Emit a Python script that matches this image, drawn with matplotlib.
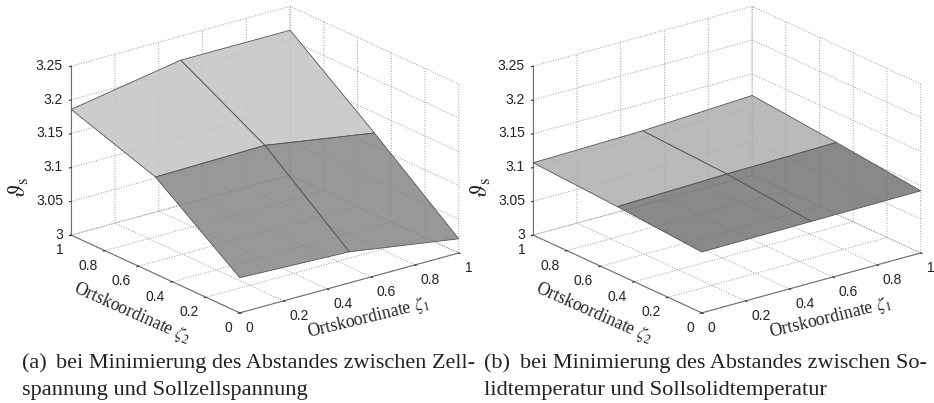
import numpy as np
import matplotlib
matplotlib.use('Agg')
import matplotlib.pyplot as plt

zeta1 = [0, 0.5, 1]
zeta2 = [0, 0.5, 1]
# rows: zeta2 = 0, 0.5, 1
theta_a = [[3.052, 3.046, 3.021],
           [3.1435, 3.146, 3.12],
           [3.186, 3.2145, 3.2145]]
theta_b = [[3.09, 3.091, 3.092],
           [3.0996, 3.1036, 3.106],
           [3.107, 3.11, 3.118]]
xticks = [0, 0.2, 0.4, 0.6, 0.8, 1]
xticklabels = ['0', '0.2', '0.4', '0.6', '0.8', '1']
zticks = [3, 3.05, 3.1, 3.15, 3.2, 3.25]
zticklabels = ['3', '3.05', '3.1', '3.15', '3.2', '3.25']
caption_a = ['(a)', 'bei Minimierung des Abstandes zwischen Zell-', 'spannung und Sollzellspannung']
caption_b = ['(b)', 'bei Minimierung des Abstandes zwischen So-', 'lidtemperatur und Sollsolidtemperatur']

plt.rcParams['font.family'] = ['Liberation Sans', 'DejaVu Sans']
plt.rcParams['mathtext.fontset'] = 'stix'
plt.rcParams['grid.linestyle'] = ':'
plt.rcParams['grid.linewidth'] = 0.7
plt.rcParams['grid.color'] = '#9a9a9a'

W, H = 934, 403
fig = plt.figure(figsize=(W / 100, H / 100), dpi=100)


def label(x, y, s, **kw):
    # positions in reference pixels
    fig.text(x / W, 1 - y / H, s, ha='center', va='center', color='#222222', **kw)


def caption(x, y, s, size=16.0):
    fig.text(x / W, 1 - y / H, s, family='Liberation Serif', fontsize=size, color='#222222', va='baseline')


def panel(left, values, light, dark, surf_alpha):
    ax = fig.add_axes([left / W, 17.5 / H, 440 / W, 440 / H], projection='3d', proj_type='ortho')
    ax.patch.set_alpha(0)
    ax.view_init(elev=20.8, azim=-127.6)
    ax.set_box_aspect((1, 1, 0.654), zoom=0.95)

    X, Y = np.meshgrid(zeta1, zeta2)
    Z = np.array(values)
    cols = np.empty((2, 2, 4))
    cols[0, :] = matplotlib.colors.to_rgba(dark, surf_alpha)
    cols[1, :] = matplotlib.colors.to_rgba(light, surf_alpha)
    ax.plot_surface(X, Y, Z, rstride=1, cstride=1, facecolors=cols, shade=False,
                    edgecolor='#555555', linewidth=0.6)

    ax.set_xlim(0, 1, view_margin=0)
    ax.set_ylim(0, 1, view_margin=0)
    ax.set_zlim(3, 3.25, view_margin=0)
    ax.set_xticks(xticks, xticklabels)
    ax.set_yticks(xticks, xticklabels)
    ax.set_zticks(zticks, zticklabels)
    ax.tick_params(labelsize=10, colors='#222222', pad=-2.3)
    ax.tick_params(axis='z', pad=-4.5)
    for t in ax.get_xticklabels():
        t.set_ha('left')
    for t in ax.get_yticklabels():
        t.set_ha('right')
    for t in ax.get_zticklabels():
        t.set_ha('right')
        t.set_va('center')

    for axis in (ax.xaxis, ax.yaxis, ax.zaxis):
        axis.set_pane_color((1, 1, 1, 0))
        axis.pane.set_edgecolor('none')
        axis.line.set_color('#707070')
        axis.line.set_linewidth(0.8)
        axis._axinfo['tick']['inward_factor'] = 0.1
        axis._axinfo['tick']['outward_factor'] = 0.0
        axis._axinfo['tick']['linewidth'] = {True: 0.7, False: 0.5}
    return ax


panel(39, theta_a, '#c4c4c4', '#868686', 0.85)
panel(501, theta_b, '#aeaeae', '#747474', 0.85)

for dx in (0, 462):
    label(dx + 368, 318, r'Ortskoordinate $\zeta_1$', family='Liberation Serif', fontsize=12.7, rotation=13.7)
    label(dx + 132, 313, r'Ortskoordinate $\zeta_2$', family='Liberation Serif', fontsize=12.7, rotation=-24)
    label(dx + 19, 188, r'$\vartheta_{\rm s}$', fontsize=17, rotation=90)

caption(22, 368, caption_a[0])
caption(56, 368, caption_a[1])
caption(22, 395, caption_a[2], 16.1)
caption(484, 368, caption_b[0])
caption(520, 368, caption_b[1])
caption(484, 395, caption_b[2], 16.1)

fig.savefig('out.png', dpi=100)
